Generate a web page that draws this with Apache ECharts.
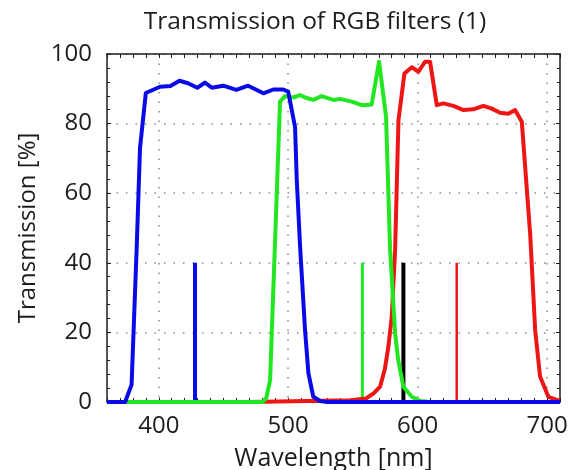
<!DOCTYPE html>
<html>
<head>
<meta charset="utf-8">
<title>Transmission of RGB filters (1)</title>
<script src="https://cdn.jsdelivr.net/npm/echarts@6/dist/echarts.min.js"></script>
<style>
  html, body { margin: 0; padding: 0; background: #ffffff; }
  #chart { width: 569px; height: 470px; }
</style>
</head>
<body>
<div id="chart"></div>
<script>
// Filter transmission curves: [wavelength nm, transmission %]
const redFilter = [
  [360, 0], [470, 0], [548, 0.5], [560, 1], [566, 2.5], [571, 4.4], [574.8, 9.7],
  [577.4, 15.9], [580, 24.5], [582.6, 43.7], [585.2, 81], [589.8, 94.4], [595.5, 96.2],
  [600.6, 94.9], [605.8, 97.8], [609.6, 97.8], [614.8, 85.3], [619.9, 85.8], [627.6, 85.1],
  [635.4, 83.9], [643, 84.1], [650.8, 85.1], [657.3, 84.3], [663.7, 83.1], [670.1, 82.8],
  [675.3, 83.9], [680.5, 80.5], [687, 48], [690.8, 20.7], [694.6, 7.3], [701, 1.5],
  [708.5, 0.5], [710, 0.5]
];
const greenFilter = [
  [370, 0], [480, 0], [483, 1], [486, 6.3], [493.7, 86.3], [497.6, 87.9],
  [504, 87.5], [509.2, 88.2], [513, 87.5], [519.4, 86.8], [525.8, 87.9], [534.8, 86.8],
  [540, 87.1], [549, 86.3], [556.8, 85.3], [564.5, 85.5], [570.2, 97.8], [575.6, 82],
  [578.7, 44], [582.6, 19.7], [585, 12], [589, 4.4], [595.5, 1.5], [602, 0.3], [610, 0],
  [710, 0]
];
const blueFilter = [
  [360, 0], [374, 0], [379, 5], [383, 45], [385.5, 73], [390, 88.8], [401, 90.6],
  [409, 90.8], [416, 92.3], [422.6, 91.6], [429.8, 90.3], [435.7, 91.8], [441, 90.3],
  [449.8, 90.9], [460, 89.7], [469, 90.9], [480.8, 88.7], [488.5, 89.8], [496.2, 89.8],
  [500, 89.2], [505.3, 79], [506.6, 64], [509.2, 44.6], [513, 20.7], [515.6, 8.3],
  [519.4, 1.5], [524.6, 0.3], [530, 0], [710, 0]
];

// Spectral reference lines (wavelength nm, height %)
const lineWavelengths = [428, 557.3, 589, 630.2];
const lineHeights = [40, 40, 40, 40];
const lineColors = ['#0a0ae6', '#22e622', '#000000', '#ee1515'];
const lineWidths = [4, 3, 4, 2.5];

// Axis ticks
const xTickLabels = [400, 500, 600, 700];
const yTickLabels = [0, 20, 40, 60, 80, 100];
const xRange = [360, 710];
const yRange = [0, 100];

const FONT = '"Open Sans", "Noto Sans", sans-serif';
const INK = '#1c1c1c';
const GRID = '#8a8a8a';

const chart = echarts.init(document.getElementById('chart'), null, { renderer: 'canvas' });

const boxAxisX = (pos, showLabels) => ({
  type: 'value',
  position: pos,
  min: xRange[0],
  max: xRange[1],
  interval: 10,
  axisLine: { show: true, onZero: false, lineStyle: { color: INK, width: 1.5 } },
  axisTick: { show: true, inside: true, length: 4, lineStyle: { color: INK, width: 1 } },
  axisLabel: showLabels ? {
    show: true, customValues: xTickLabels, color: INK, fontSize: 24, fontFamily: FONT, margin: 12
  } : { show: false },
  splitLine: { show: false },
  name: showLabels ? 'Wavelength [nm]' : '',
  nameLocation: 'middle',
  nameGap: 44,
  nameTextStyle: { color: INK, fontSize: 25, fontFamily: FONT }
});

const boxAxisY = (pos, showLabels) => ({
  type: 'value',
  position: pos,
  min: yRange[0],
  max: yRange[1],
  interval: yTickLabels[1] - yTickLabels[0],
  axisLine: { show: true, onZero: false, lineStyle: { color: INK, width: 1.5 } },
  axisTick: { show: true, inside: true, length: 4, lineStyle: { color: INK, width: 1 } },
  minorTick: { show: true, splitNumber: 5, length: 3, lineStyle: { color: INK, width: 1 } },
  axisLabel: showLabels ? { show: true, color: INK, fontSize: 24, fontFamily: FONT, margin: 15 } : { show: false },
  splitLine: showLabels
    ? { show: true, lineStyle: { color: GRID, width: 1.5, type: [1.5, 8] } }
    : { show: false },
  name: showLabels ? 'Transmission [%]' : '',
  nameLocation: 'middle',
  nameGap: 64,
  nameTextStyle: { color: INK, fontSize: 24, fontFamily: FONT }
});

const curve = (data, color) => ({
  type: 'line',
  data: data,
  xAxisIndex: 0,
  yAxisIndex: 0,
  showSymbol: false,
  symbol: 'none',
  lineStyle: { color: color, width: 4, join: 'round' },
  silent: true,
  animation: false,
  z: 3
});

const spikes = lineWavelengths.map((wl, i) => ({
  type: 'line',
  data: [[wl, 0], [wl, lineHeights[i]]],
  xAxisIndex: 0,
  yAxisIndex: 0,
  showSymbol: false,
  symbol: 'none',
  lineStyle: { color: lineColors[i], width: lineWidths[i], cap: 'butt' },
  silent: true,
  animation: false,
  z: 2
}));

chart.setOption({
  animation: false,
  backgroundColor: '#ffffff',
  graphic: [{
    type: 'text',
    x: 315,
    y: 22,
    style: {
      text: 'Transmission of RGB filters (1)',
      fill: INK,
      fontSize: 24.5,
      fontFamily: FONT,
      align: 'center',
      verticalAlign: 'middle'
    }
  }],
  grid: { left: 107, right: 9, top: 54, bottom: 68, containLabel: false, outerBoundsMode: 'none' },
  xAxis: [
    boxAxisX('bottom', true),
    boxAxisX('top', false),
    {
      // vertical dotted grid at the labelled wavelengths
      type: 'value',
      position: 'bottom',
      min: xRange[0],
      max: xRange[1],
      axisLine: { show: false },
      axisTick: { show: false, customValues: xTickLabels },
      axisLabel: { show: false, customValues: xTickLabels },
      splitLine: { show: true, lineStyle: { color: GRID, width: 1.5, type: [1.5, 8] } }
    }
  ],
  yAxis: [boxAxisY('left', true), boxAxisY('right', false)],
  series: [
    ...spikes,
    curve(redFilter, '#ee1515'),
    curve(greenFilter, '#22e622'),
    curve(blueFilter, '#0a0ae6')
  ]
});
</script>
</body>
</html>
